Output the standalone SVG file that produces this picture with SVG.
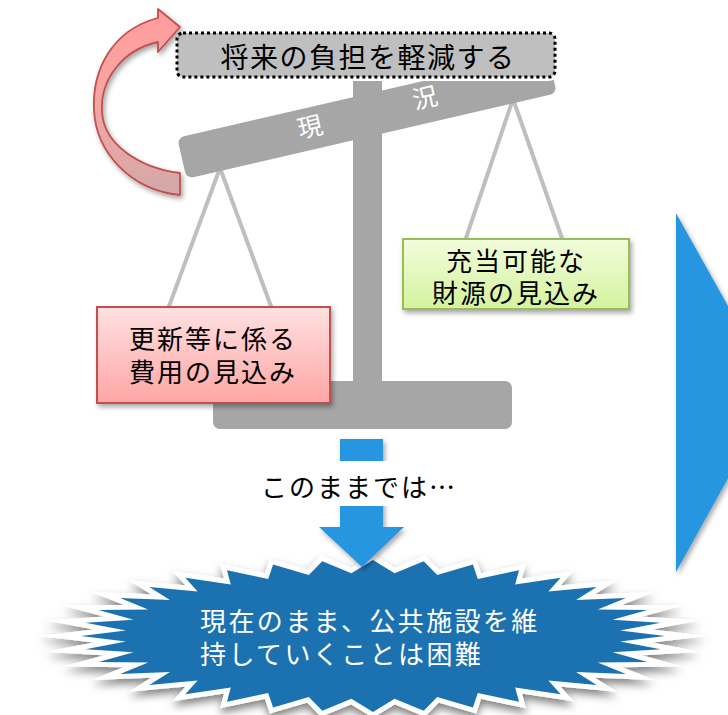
<svg xmlns="http://www.w3.org/2000/svg" width="728" height="715" viewBox="0 0 728 715">
<style>
text{font-family:"Noto Sans CJK JP","Noto Sans",sans-serif}
.gray{fill:#a6a6a6}
.hang{stroke:#bfbfbf;stroke-width:4;fill:none}
.lbl{font-size:26px;letter-spacing:2px;fill:#000;text-anchor:middle}
.ml{font-family:"Liberation Sans","Noto Sans CJK JP",sans-serif}
.ttl{font-size:28px;letter-spacing:1.5px;fill:#000;text-anchor:middle}
.beamtxt{font-size:25px;fill:#fff;text-anchor:middle}
.star{font-size:26px;letter-spacing:2.4px;fill:#fff}
.blue{fill:#2896e0}
</style>
<defs>
<filter id="sh" x="-20%" y="-20%" width="140%" height="150%">
<feDropShadow dx="2" dy="3" stdDeviation="2.5" flood-color="#000" flood-opacity="0.35"/>
</filter>
<filter id="shs" x="-20%" y="-30%" width="140%" height="170%">
<feDropShadow dx="0" dy="5" stdDeviation="4" flood-color="#000" flood-opacity="0.5"/>
</filter>
<linearGradient id="gPink" x1="0" y1="0" x2="0" y2="1">
<stop offset="0" stop-color="#ffe1e1"/><stop offset="1" stop-color="#ffa5a5"/>
</linearGradient>
<linearGradient id="gGreen" x1="0" y1="0" x2="0" y2="1">
<stop offset="0" stop-color="#f2fddc"/><stop offset="1" stop-color="#d4f39e"/>
</linearGradient>
<linearGradient id="gRed" x1="0" y1="0" x2="0" y2="1">
<stop offset="0" stop-color="#ff9c9c"/><stop offset="0.45" stop-color="#f8a4a4"/><stop offset="1" stop-color="#d2a9a9"/>
</linearGradient>
</defs>

<g id="scale">
<line class="hang" x1="220" y1="168" x2="168" y2="309"/>
<line class="hang" x1="220" y1="168" x2="272" y2="309"/>
<line class="hang" x1="513" y1="99" x2="465" y2="241"/>
<line class="hang" x1="513" y1="99" x2="563" y2="241"/>
<rect class="gray" x="353" y="76" width="29" height="310"/>
<rect class="gray" x="-190" y="-21" width="380" height="42" rx="7" transform="translate(367,115.5) rotate(-13)"/>
<rect class="gray" x="213" y="381" width="299" height="48" rx="7"/>
<text class="beamtxt" transform="translate(310,127) rotate(-13)" y="9">現</text>
<text class="beamtxt" transform="translate(425,98) rotate(-13)" y="9">況</text>
</g>

<g id="goal">
<rect x="177" y="33" width="378" height="44" rx="6" fill="#bfbfbf" stroke="#fff" stroke-width="8"/>
<rect x="177" y="33" width="378" height="44" rx="6" fill="#bfbfbf" stroke="#000" stroke-width="3" stroke-dasharray="3 3"/>
<text class="ttl" x="368" y="68">将来の負担を軽減する</text>
</g>

<g id="cost">
<rect x="97" y="307" width="233" height="96" fill="url(#gPink)" stroke="#c0504d" stroke-width="2" filter="url(#sh)"/>
<text class="lbl ml" x="213" y="349">更新等に係る</text>
<text class="lbl ml" x="213" y="382">費用の見込み</text>
</g>

<g id="funds">
<rect x="403" y="239" width="226" height="70" fill="url(#gGreen)" stroke="#9bbb59" stroke-width="2" filter="url(#sh)"/>
<text class="lbl ml" x="516" y="271">充当可能な</text>
<text class="lbl ml" x="516" y="303">財源の見込み</text>
</g>

<g id="curl">
<path d="M158,18 C112,30 92,70 94,110 C96,152 130,190 180,195 L180,173 C140,168 104,145 102,112 C100,80 122,50 158,42 L158,52 L180,27 L158,9 Z" fill="url(#gRed)" stroke="#c0504d" stroke-width="1.8" stroke-linejoin="round" filter="url(#sh)"/>
</g>

<g id="bigArrow">
<polygon class="blue" points="676,213 776,392 676,572" filter="url(#sh)"/>
</g>

<g id="result">
<polygon fill="#1b72b0" stroke="#fff" stroke-width="10" stroke-linejoin="miter" stroke-miterlimit="12" paint-order="stroke" filter="url(#shs)" points="665,636 620.1,641.5 660.6,649.2 612.6,652.3 647.4,662 597.8,662.6 625.9,674 576.1,672.1 596.7,684.9 548.4,680.5 560.7,694.2 515.2,687.6 519,701.8 477.8,693.1 472.9,707.4 437.2,696.9 423.7,710.8 394.6,698.8 373,712 351.4,698.8 322.3,710.8 308.8,696.9 273.1,707.4 268.2,693.1 227,701.8 230.8,687.6 185.3,694.2 197.6,680.5 149.3,684.9 169.9,672.1 120.1,674 148.2,662.6 98.6,662 133.5,652.3 85.4,649.2 125.9,641.5 81,636 125.9,630.5 85.4,622.8 133.5,619.7 98.6,610 148.2,609.4 120.1,598 169.9,599.9 149.3,587.1 197.6,591.5 185.3,577.8 230.8,584.4 227,570.2 268.2,578.9 273.1,564.6 308.8,575.1 322.3,561.2 351.4,573.2 373,560 394.6,573.2 423.7,561.2 437.2,575.1 472.9,564.6 477.8,578.9 519,570.2 515.2,584.4 560.7,577.8 548.4,591.5 596.7,587.1 576.1,599.9 625.9,598 597.8,609.4 647.4,610 612.6,619.7 660.6,622.8 620.1,630.5"/>
<text class="star ml" x="200" y="631">現在のまま、公共施設を維</text>
<text class="star ml" x="200" y="664">持していくことは困難</text>
</g>

<g id="connectors">
<polygon class="blue" points="340,439 383,439 383,527 404,527 362,567 319,527 340,527" filter="url(#sh)"/>
<rect x="250" y="461" width="215" height="45" fill="#fff"/>
<text class="lbl" x="359" y="497">このままでは…</text>
</g>
</svg>
